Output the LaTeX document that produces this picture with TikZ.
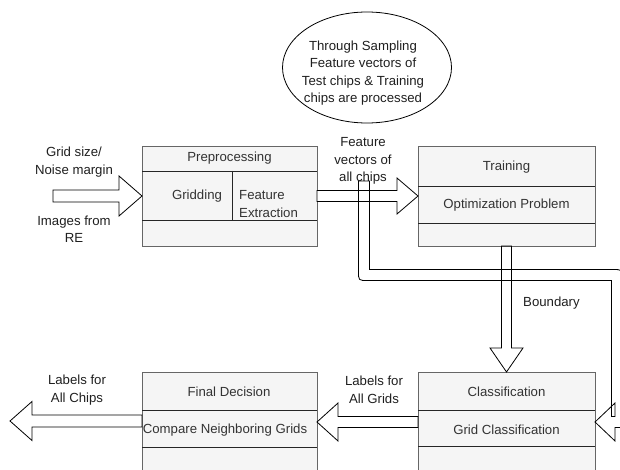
\documentclass[tikz,border=0pt]{standalone}
\usepackage{fontspec}
\setmainfont{Liberation Sans}
\usetikzlibrary{shapes.geometric,calc}
\definecolor{boxfill}{HTML}{F5F5F5}
\definecolor{boxline}{HTML}{666666}
\definecolor{boxtext}{HTML}{333333}
\begin{document}
\begin{tikzpicture}[x=1pt,y=-1pt,
  font=\fontsize{13.2}{17.5}\selectfont,
  box/.style={draw=boxline, fill=boxfill, line width=0.8pt, anchor=north west,
    outer sep=0pt, inner sep=0pt, minimum width=177pt, minimum height=100pt},
  divider/.style={draw=black!85, line width=0.9pt},
  boxlabel/.style={text=boxtext, inner sep=0pt},
  note/.style={text=black!88, align=center, inner sep=0pt},
  barrow/.style={draw=black, line width=0.8pt, fill=white, line join=miter},
  wire/.style={draw=black, line width=0.8pt, line join=miter}]

% page area
\path[use as bounding box, clip] (0,0) rectangle (620,470);

% annotation cloud
\node[draw, ellipse, line width=0.8pt, minimum width=169pt, minimum height=111pt,
  inner sep=0pt] (cloud) at (367,67.5) {};
\node[note] (cloudText) at (363,73) {Through Sampling\\Feature vectors of\\Test chips \& Training\\chips are processed};

% process boxes
\node[box, minimum width=175pt] (pre) at (142,146) {};
\node[box] (train) at (418,146) {};
\node[box, minimum height=120pt] (cls) at (418,372) {};
\node[box, minimum width=175pt, minimum height=120pt] (fin) at (142,372) {};

% row dividers
\draw[divider] ($(pre.north west)+(0,25)$) -- ($(pre.north east)+(0,25)$);
\draw[divider] ($(pre.north west)+(0,74)$) -- ($(pre.north east)+(0,74)$);
\draw[divider] ($(pre.north west)+(90,25)$) -- ($(pre.north west)+(90,74)$);
\draw[divider] ($(train.north west)+(0,40)$) -- ($(train.north east)+(0,40)$);
\draw[divider] ($(train.north west)+(0,77)$) -- ($(train.north east)+(0,77)$);
\draw[divider] ($(cls.north west)+(0,38)$) -- ($(cls.north east)+(0,38)$);
\draw[divider] ($(cls.north west)+(0,74)$) -- ($(cls.north east)+(0,74)$);
\draw[divider] ($(fin.north west)+(0,38)$) -- ($(fin.north east)+(0,38)$);
\draw[divider] ($(fin.north west)+(0,75)$) -- ($(fin.north east)+(0,75)$);

% box texts
\node[boxlabel] at (229.5,158.5) {Preprocessing};
\node[boxlabel] at (197,196) {Gridding};
\node[boxlabel, align=left, anchor=west] at (239,204) {Feature\\Extraction};
\node[boxlabel] at (506.5,167) {Training};
\node[boxlabel] at (506.5,205) {Optimization Problem};
\node[boxlabel] at (506.5,392) {Classification};
\node[boxlabel] at (506.5,430) {Grid Classification};
\node[boxlabel] at (229,392) {Final Decision};
\node[boxlabel] at (225,430) {Compare Neighboring Grids};

% arrow end points
\coordinate (inTail) at (53,196);
\coordinate (outTip) at (10,421);
\coordinate (wireTail) at (364,181);
\coordinate (clsIn) at ($(cls.north east)+(0,50)$);
\coordinate (clsOut) at ($(cls.north west)+(0,50)$);
\coordinate (finIn) at ($(fin.north east)+(0,50)$);
\coordinate (finOut) at ($(fin.north west)+(0,49)$);

% arrow labels
\node[note] (gridLbl) at (74,162) {Grid size/\\Noise margin};
\node[note] (imgLbl) at (74,229) {Images from\\RE};
\node[note] (featLbl) at (363,161) {Feature\\vectors of\\all chips};
\node[note, anchor=west] (bndLbl) at (523,303) {Boundary};
\node[note] (gridsLbl) at (374,390) {Labels for\\All Grids};
\node[note] (chipsLbl) at (77,390) {Labels for\\All Chips};

% block arrows
\draw[barrow] (inTail) ++(0,-6) -- ++(66,0) -- ++(0,-14) -- (pre.west)
  -- ++(-23,20) -- ++(0,-14) -- ++(-66,0) -- cycle;
\draw[barrow] (pre.east) ++(0,-5.5) -- ++(80,0) -- ++(0,-12.5) -- (train.west)
  -- ++(-21,18) -- ++(0,-12.5) -- ++(-80,0) -- cycle;
\draw[barrow] (clsOut) ++(0,-5.5) -- ++(-80,0) -- ++(0,-13.5) -- (finIn)
  -- ++(21,19) -- ++(0,-13.5) -- ++(80,0) -- cycle;
\draw[barrow] (finOut) ++(0,-6) -- ++(-110,0) -- ++(0,-13.5) -- (outTip)
  -- ++(22,19.5) -- ++(0,-13.5) -- ++(110,0) -- cycle;

% boundary arrow (outline only)
\draw[wire] (train.south) ++(-5,0) -- ++(0,102) -- ++(-11.5,0) -- (cls.north)
  -- ++(16.5,-24) -- ++(-11.5,0) -- ++(0,-102) -- cycle;

% feature vectors routed to classification (outline only)
\draw[wire] (wireTail) ++(-5.5,0) -- (358.5,271.5) .. controls (358.5,280.5) .. (367.5,280.5)
  -- (611.5,280.5) -- (611.5,416.5) -- (615,416.5) -- (615,403) -- (clsIn)
  -- (615,441) -- (615,427.5) -- (622.5,427.5) -- (622.5,279.5)
  .. controls (622.5,269.5) .. (612.5,269.5) -- (369.5,269.5) -- (369.5,181) -- cycle;

\end{tikzpicture}
\end{document}
